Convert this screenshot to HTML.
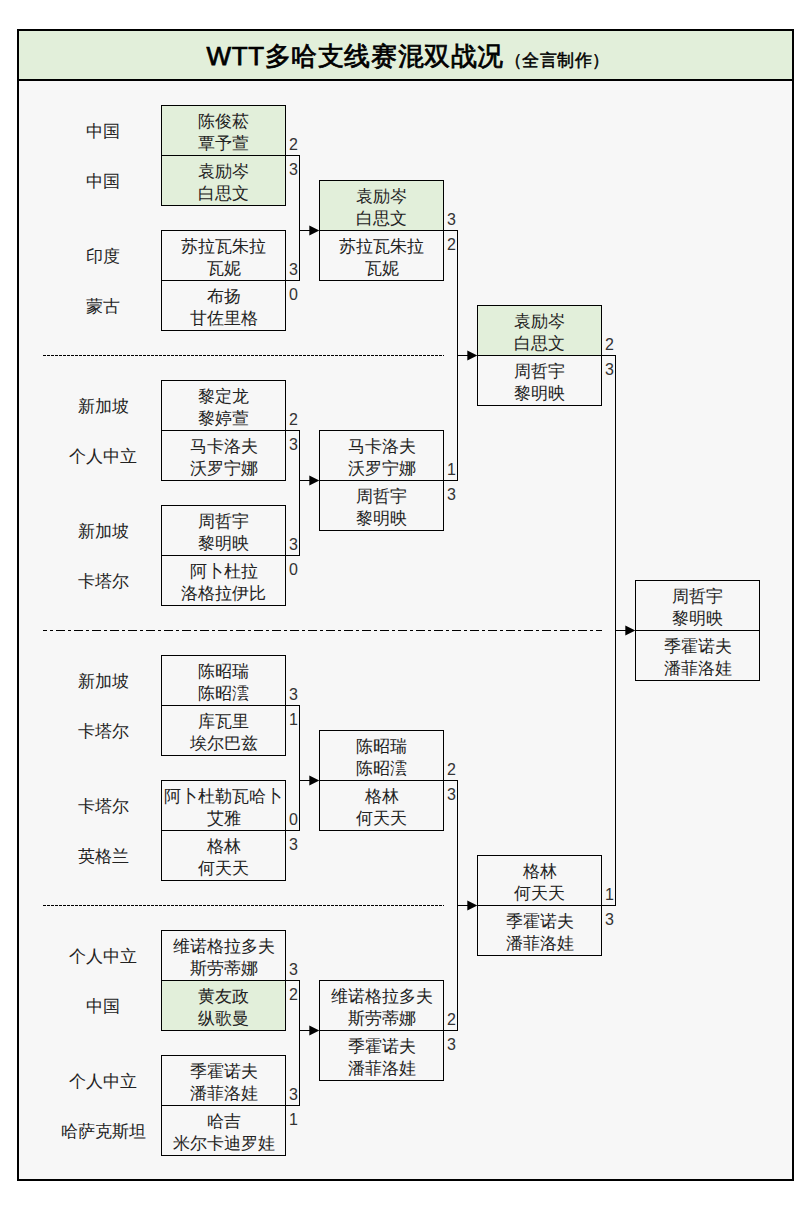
<!DOCTYPE html>
<html><head><meta charset="utf-8"><style>
html,body{margin:0;padding:0;background:#fff;}
body{width:810px;height:1211px;position:relative;overflow:hidden;font-family:"Liberation Sans",sans-serif;color:#000;}
#frame{position:absolute;left:17px;top:29px;width:773px;height:1148px;border:2px solid #000;background:#f7f7f7;}
#head{position:absolute;left:19px;top:31px;width:773px;height:48px;background:#e2efda;border-bottom:2px solid #000;}
#title{position:absolute;left:2px;top:0;width:100%;height:48px;line-height:50px;text-align:center;font-weight:normal;-webkit-text-stroke:0.75px #000;font-size:26px;letter-spacing:0.6px;white-space:nowrap;}
#title small{font-size:17px;letter-spacing:0.4px;font-weight:normal;-webkit-text-stroke:0.5px #000;position:relative;top:1px;left:1px;}
svg{position:absolute;left:0;top:0;}
.nm{position:absolute;width:125px;height:50px;display:flex;flex-direction:column;justify-content:center;align-items:center;text-align:center;font-size:17px;line-height:22px;white-space:nowrap;color:#222;}
.sc{position:absolute;height:25px;line-height:25px;font-size:16px;color:#333;}
.ct{position:absolute;left:43px;width:120px;height:50px;line-height:50px;text-align:center;font-size:17px;color:#222;}
</style></head><body>
<div id="frame"></div>
<div id="head"><div id="title">WTT多哈支线赛混双战况<small>（全言制作）</small></div></div>
<svg width="810" height="1211" shape-rendering="crispEdges">
<rect x="161" y="105" width="124" height="50" fill="#e2efda"/>
<rect x="161" y="155" width="124" height="50" fill="#e2efda"/>
<rect x="161" y="980" width="124" height="50" fill="#e2efda"/>
<rect x="319" y="180" width="124" height="50" fill="#e2efda"/>
<rect x="477" y="305" width="124" height="50" fill="#e2efda"/>
<rect x="161.5" y="105.5" width="124" height="100" fill="none" stroke="#000"/>
<path d="M161 155.5H286" stroke="#000"/>
<rect x="161.5" y="230.5" width="124" height="100" fill="none" stroke="#000"/>
<path d="M161 280.5H286" stroke="#000"/>
<rect x="161.5" y="380.5" width="124" height="100" fill="none" stroke="#000"/>
<path d="M161 430.5H286" stroke="#000"/>
<rect x="161.5" y="505.5" width="124" height="100" fill="none" stroke="#000"/>
<path d="M161 555.5H286" stroke="#000"/>
<rect x="161.5" y="655.5" width="124" height="100" fill="none" stroke="#000"/>
<path d="M161 705.5H286" stroke="#000"/>
<rect x="161.5" y="780.5" width="124" height="100" fill="none" stroke="#000"/>
<path d="M161 830.5H286" stroke="#000"/>
<rect x="161.5" y="930.5" width="124" height="100" fill="none" stroke="#000"/>
<path d="M161 980.5H286" stroke="#000"/>
<rect x="161.5" y="1055.5" width="124" height="100" fill="none" stroke="#000"/>
<path d="M161 1105.5H286" stroke="#000"/>
<rect x="319.5" y="180.5" width="124" height="100" fill="none" stroke="#000"/>
<path d="M319 230.5H444" stroke="#000"/>
<rect x="319.5" y="430.5" width="124" height="100" fill="none" stroke="#000"/>
<path d="M319 480.5H444" stroke="#000"/>
<rect x="319.5" y="730.5" width="124" height="100" fill="none" stroke="#000"/>
<path d="M319 780.5H444" stroke="#000"/>
<rect x="319.5" y="980.5" width="124" height="100" fill="none" stroke="#000"/>
<path d="M319 1030.5H444" stroke="#000"/>
<rect x="477.5" y="305.5" width="124" height="100" fill="none" stroke="#000"/>
<path d="M477 355.5H602" stroke="#000"/>
<rect x="477.5" y="855.5" width="124" height="100" fill="none" stroke="#000"/>
<path d="M477 905.5H602" stroke="#000"/>
<rect x="635.5" y="580.5" width="124" height="100" fill="none" stroke="#000"/>
<path d="M635 630.5H760" stroke="#000"/>
<path d="M285 155.5H299.5V280.5H285" fill="none" stroke="#000"/>
<path d="M299 230.5H310" stroke="#000"/>
<path shape-rendering="geometricPrecision" d="M309.3 225.4L319.3 230.5L309.3 235.6Z" fill="#000"/>
<path d="M285 430.5H299.5V555.5H285" fill="none" stroke="#000"/>
<path d="M299 480.5H310" stroke="#000"/>
<path shape-rendering="geometricPrecision" d="M309.3 475.4L319.3 480.5L309.3 485.6Z" fill="#000"/>
<path d="M285 705.5H299.5V830.5H285" fill="none" stroke="#000"/>
<path d="M299 780.5H310" stroke="#000"/>
<path shape-rendering="geometricPrecision" d="M309.3 775.4L319.3 780.5L309.3 785.6Z" fill="#000"/>
<path d="M285 980.5H299.5V1105.5H285" fill="none" stroke="#000"/>
<path d="M299 1030.5H310" stroke="#000"/>
<path shape-rendering="geometricPrecision" d="M309.3 1025.4L319.3 1030.5L309.3 1035.6Z" fill="#000"/>
<path d="M443 230.5H457.5V480.5H443" fill="none" stroke="#000"/>
<path d="M457 355.5H468" stroke="#000"/>
<path shape-rendering="geometricPrecision" d="M467.3 350.4L477.3 355.5L467.3 360.6Z" fill="#000"/>
<path d="M443 780.5H457.5V1030.5H443" fill="none" stroke="#000"/>
<path d="M457 905.5H468" stroke="#000"/>
<path shape-rendering="geometricPrecision" d="M467.3 900.4L477.3 905.5L467.3 910.6Z" fill="#000"/>
<path d="M601 355.5H615.5V905.5H601" fill="none" stroke="#000"/>
<path d="M615 630.5H626" stroke="#000"/>
<path shape-rendering="geometricPrecision" d="M625.3 625.4L635.3 630.5L625.3 635.6Z" fill="#000"/>
<path d="M43 355.5H444" stroke="#000" stroke-dasharray="3 1"/>
<path d="M43 905.5H444" stroke="#000" stroke-dasharray="3 1"/>
<path d="M43 630.5H602" stroke="#000" stroke-dasharray="9 3 3 3" stroke-dashoffset="5"/>
</svg>
<div class="nm" style="left:161px;top:108px">陈俊菘<br>覃予萱</div>
<div class="nm" style="left:161px;top:158px">袁励岑<br>白思文</div>
<div class="nm" style="left:161px;top:233px">苏拉瓦朱拉<br>瓦妮</div>
<div class="nm" style="left:161px;top:283px">布扬<br>甘佐里格</div>
<div class="nm" style="left:161px;top:383px">黎定龙<br>黎婷萱</div>
<div class="nm" style="left:161px;top:433px">马卡洛夫<br>沃罗宁娜</div>
<div class="nm" style="left:161px;top:508px">周哲宇<br>黎明映</div>
<div class="nm" style="left:161px;top:558px">阿卜杜拉<br>洛格拉伊比</div>
<div class="nm" style="left:161px;top:658px">陈昭瑞<br>陈昭澐</div>
<div class="nm" style="left:161px;top:708px">库瓦里<br>埃尔巴兹</div>
<div class="nm" style="left:161px;top:783px">阿卜杜勒瓦哈卜<br>艾雅</div>
<div class="nm" style="left:161px;top:833px">格林<br>何天天</div>
<div class="nm" style="left:161px;top:933px">维诺格拉多夫<br>斯劳蒂娜</div>
<div class="nm" style="left:161px;top:983px">黄友政<br>纵歌曼</div>
<div class="nm" style="left:161px;top:1058px">季霍诺夫<br>潘菲洛娃</div>
<div class="nm" style="left:161px;top:1108px">哈吉<br>米尔卡迪罗娃</div>
<div class="nm" style="left:319px;top:183px">袁励岑<br>白思文</div>
<div class="nm" style="left:319px;top:233px">苏拉瓦朱拉<br>瓦妮</div>
<div class="nm" style="left:319px;top:433px">马卡洛夫<br>沃罗宁娜</div>
<div class="nm" style="left:319px;top:483px">周哲宇<br>黎明映</div>
<div class="nm" style="left:319px;top:733px">陈昭瑞<br>陈昭澐</div>
<div class="nm" style="left:319px;top:783px">格林<br>何天天</div>
<div class="nm" style="left:319px;top:983px">维诺格拉多夫<br>斯劳蒂娜</div>
<div class="nm" style="left:319px;top:1033px">季霍诺夫<br>潘菲洛娃</div>
<div class="nm" style="left:477px;top:308px">袁励岑<br>白思文</div>
<div class="nm" style="left:477px;top:358px">周哲宇<br>黎明映</div>
<div class="nm" style="left:477px;top:858px">格林<br>何天天</div>
<div class="nm" style="left:477px;top:908px">季霍诺夫<br>潘菲洛娃</div>
<div class="nm" style="left:635px;top:583px">周哲宇<br>黎明映</div>
<div class="nm" style="left:635px;top:633px">季霍诺夫<br>潘菲洛娃</div>
<div class="sc" style="left:289px;top:132px">2</div>
<div class="sc" style="left:289px;top:157px">3</div>
<div class="sc" style="left:289px;top:257px">3</div>
<div class="sc" style="left:289px;top:282px">0</div>
<div class="sc" style="left:289px;top:407px">2</div>
<div class="sc" style="left:289px;top:432px">3</div>
<div class="sc" style="left:289px;top:532px">3</div>
<div class="sc" style="left:289px;top:557px">0</div>
<div class="sc" style="left:289px;top:682px">3</div>
<div class="sc" style="left:289px;top:707px">1</div>
<div class="sc" style="left:289px;top:807px">0</div>
<div class="sc" style="left:289px;top:832px">3</div>
<div class="sc" style="left:289px;top:957px">3</div>
<div class="sc" style="left:289px;top:982px">2</div>
<div class="sc" style="left:289px;top:1082px">3</div>
<div class="sc" style="left:289px;top:1107px">1</div>
<div class="sc" style="left:447px;top:207px">3</div>
<div class="sc" style="left:447px;top:232px">2</div>
<div class="sc" style="left:447px;top:457px">1</div>
<div class="sc" style="left:447px;top:482px">3</div>
<div class="sc" style="left:447px;top:757px">2</div>
<div class="sc" style="left:447px;top:782px">3</div>
<div class="sc" style="left:447px;top:1007px">2</div>
<div class="sc" style="left:447px;top:1032px">3</div>
<div class="sc" style="left:605px;top:332px">2</div>
<div class="sc" style="left:605px;top:357px">3</div>
<div class="sc" style="left:605px;top:882px">1</div>
<div class="sc" style="left:605px;top:907px">3</div>
<div class="ct" style="top:107px">中国</div>
<div class="ct" style="top:157px">中国</div>
<div class="ct" style="top:232px">印度</div>
<div class="ct" style="top:282px">蒙古</div>
<div class="ct" style="top:382px">新加坡</div>
<div class="ct" style="top:432px">个人中立</div>
<div class="ct" style="top:507px">新加坡</div>
<div class="ct" style="top:557px">卡塔尔</div>
<div class="ct" style="top:657px">新加坡</div>
<div class="ct" style="top:707px">卡塔尔</div>
<div class="ct" style="top:782px">卡塔尔</div>
<div class="ct" style="top:832px">英格兰</div>
<div class="ct" style="top:932px">个人中立</div>
<div class="ct" style="top:982px">中国</div>
<div class="ct" style="top:1057px">个人中立</div>
<div class="ct" style="top:1107px">哈萨克斯坦</div>
</body></html>
